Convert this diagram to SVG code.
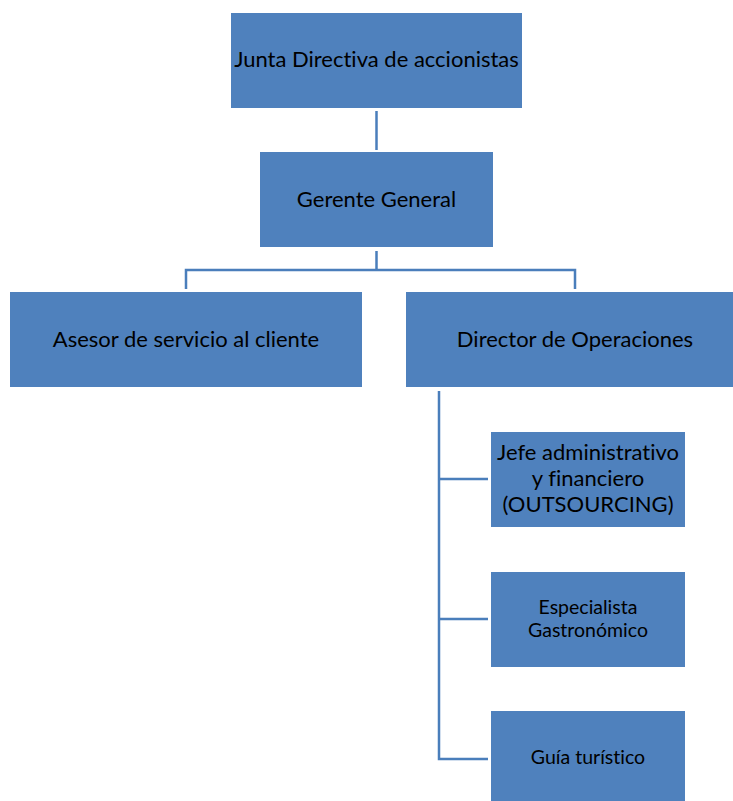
<svg xmlns="http://www.w3.org/2000/svg" width="733" height="801" viewBox="0 0 733 801">
  <style>
    .box { fill: #4F81BD; }
    .lbl { font-family: Lato, "Open Sans", sans-serif; font-size: 22px; fill: #000; text-anchor: middle; font-variant-ligatures: none; }
    .sm { font-size: 19.5px; }
    .wire { fill: none; stroke: #4A7EBB; stroke-width: 2.5; }
  </style>
  <rect width="733" height="801" fill="#fff"/>

  <g id="connectors">
    <line class="wire" x1="376.5" y1="111" x2="376.5" y2="150"/>
    <polyline class="wire" points="376.5,251 376.5,270"/>
    <polyline class="wire" points="186,289 186,270 575,270 575,289"/>
    <polyline class="wire" points="439,391 439,759 488,759"/>
    <line class="wire" x1="439" y1="479" x2="488" y2="479"/>
    <line class="wire" x1="439" y1="619" x2="488" y2="619"/>
  </g>

  <g id="junta">
    <rect class="box" x="231" y="13" width="291" height="95"/>
    <text class="lbl" x="376.5" y="67">Junta Directiva de accionistas</text>
  </g>

  <g id="gerente">
    <rect class="box" x="260" y="152" width="233" height="95"/>
    <text class="lbl" x="376.5" y="207">Gerente General</text>
  </g>

  <g id="asesor">
    <rect class="box" x="10" y="292" width="352" height="95"/>
    <text class="lbl" x="186" y="347">Asesor de servicio al cliente</text>
  </g>

  <g id="director">
    <rect class="box" x="406" y="292" width="327" height="95"/>
    <text class="lbl" x="575" y="347">Director de Operaciones</text>
  </g>

  <g id="jefe">
    <rect class="box" x="491" y="432" width="194" height="95"/>
    <text class="lbl" x="588" y="460">Jefe administrativo</text>
    <text class="lbl" x="588" y="486">y financiero</text>
    <text class="lbl" x="588" y="512">(OUTSOURCING)</text>
  </g>

  <g id="especialista">
    <rect class="box" x="491" y="572" width="194" height="95"/>
    <text class="lbl sm" x="588" y="614">Especialista</text>
    <text class="lbl sm" x="588" y="637">Gastronómico</text>
  </g>

  <g id="guia">
    <rect class="box" x="491" y="711" width="194" height="90"/>
    <text class="lbl sm" x="588" y="764">Guía turístico</text>
  </g>
</svg>
